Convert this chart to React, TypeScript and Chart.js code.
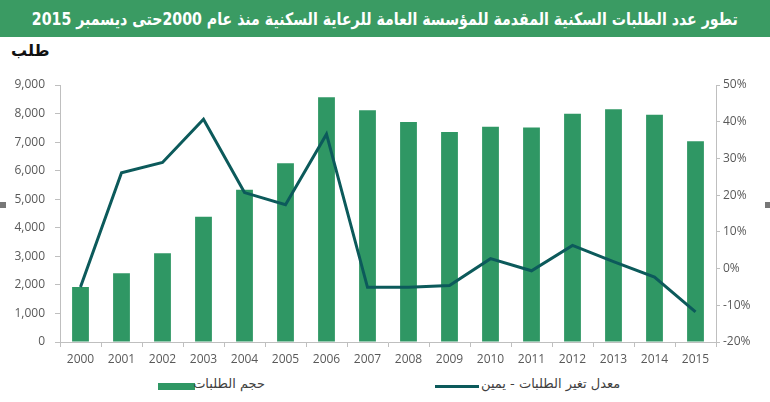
import React, { useEffect, useRef } from "react";
import { Chart, registerables } from "chart.js";

Chart.register(...registerables);

const years = ["2000","2001","2002","2003","2004","2005","2006","2007","2008","2009","2010","2011","2012","2013","2014","2015"];
const requests = [1930, 2410, 3110, 4390, 5330, 6260, 8570, 8120, 7700, 7350, 7540, 7510, 7990, 8150, 7960, 7030];
const changePct = [-5.0, 26.1, 28.9, 40.7, 20.7, 17.4, 36.6, -5.1, -5.1, -4.6, 2.7, -0.6, 6.3, 1.9, -2.3, -11.8];

const titleText = "تطور عدد الطلبات السكنية المقدمة للمؤسسة العامة للرعاية السكنية منذ عام 2000حتى ديسمبر 2015";
const unitLabel = "طلب";
const barLabel = "حجم الطلبات";
const lineLabel = "معدل تغير الطلبات - يمين";

const BAR_COLOR = "#2f9764";
const LINE_COLOR = "#0c5a5b";
const AXIS_COLOR = "#bfbfbf";
const TICK_COLOR = "#595959";

function FitText({ text, width, style }: { text: string; width: number; style: React.CSSProperties }) {
  const r = useRef<HTMLSpanElement | null>(null);
  useEffect(() => {
    const el = r.current!;
    el.style.transform = "none";
    const w = el.getBoundingClientRect().width;
    if (w > 0) el.style.transform = `scaleX(${width / w})`;
  }, [text, width]);
  return (
    <span ref={r} style={{ display: "inline-block", whiteSpace: "nowrap", direction: "rtl", transformOrigin: "center", ...style }}>
      {text}
    </span>
  );
}

export default function App() {
  const ref = useRef<HTMLCanvasElement | null>(null);

  useEffect(() => {
    document.body.style.margin = "0";
    const ctx = ref.current!.getContext("2d")!;
    const chart = new Chart(ctx, {
      type: "bar",
      data: {
        labels: years,
        datasets: [
          {
            type: "line",
            label: lineLabel,
            data: changePct,
            yAxisID: "y1",
            borderColor: LINE_COLOR,
            backgroundColor: LINE_COLOR,
            borderWidth: 3,
            pointRadius: 0,
            tension: 0,
            order: 0,
          } as any,
          {
            type: "bar",
            label: barLabel,
            data: requests,
            yAxisID: "y",
            backgroundColor: BAR_COLOR,
            categoryPercentage: 1,
            barPercentage: 0.41,
            order: 1,
          },
        ],
      },
      options: {
        responsive: false,
        animation: false,
        layout: { padding: { top: 45, left: 0, right: 0, bottom: 0 } },
        plugins: { legend: { display: false }, tooltip: { enabled: false }, title: { display: false } },
        scales: {
          x: {
            offset: true,
            grid: { display: true, drawOnChartArea: false, drawTicks: true, tickLength: 5, color: AXIS_COLOR, offset: true },
            border: { display: true, color: AXIS_COLOR, width: 1 },
            ticks: { color: TICK_COLOR, font: { family: "'Open Sans'", size: 12 }, padding: 5, maxRotation: 0, autoSkip: false },
            afterFit: (s: any) => { s.height = 33; },
          },
          y: {
            position: "left",
            min: 0,
            max: 9000,
            grid: { display: true, drawOnChartArea: false, drawTicks: true, tickLength: 5, color: AXIS_COLOR },
            border: { display: true, color: AXIS_COLOR, width: 1 },
            ticks: {
              stepSize: 1000,
              color: TICK_COLOR,
              font: { family: "'Open Sans'", size: 12 },
              padding: 10,
              callback: (v: any) => Number(v).toLocaleString("en-US"),
            },
            afterFit: (s: any) => { s.width = 60; },
          },
          y1: {
            position: "right",
            min: -20,
            max: 50,
            grid: { display: true, drawOnChartArea: false, drawTicks: true, tickLength: 4, color: AXIS_COLOR },
            border: { display: true, color: AXIS_COLOR, width: 1 },
            ticks: {
              stepSize: 10,
              color: TICK_COLOR,
              font: { family: "'Open Sans'", size: 12 },
              padding: 3,
              callback: (v: any) => `${v}%`,
            },
            afterFit: (s: any) => { s.width = 54; },
          },
        },
      },
    });
    return () => chart.destroy();
  }, []);

  return (
    <div style={{ position: "relative", width: 770, height: 402, background: "#fff", overflow: "hidden" }}>
      <div
        style={{
          position: "absolute", left: 0, top: 0, width: 770, height: 37, background: "#3a9b63",
          display: "flex", alignItems: "center", justifyContent: "center",
        }}
      >
        <FitText text={titleText} width={706} style={{ color: "#fff", fontFamily: "'DejaVu Sans'", fontWeight: "bold", fontSize: 17 }} />
      </div>
      <div style={{ position: "absolute", left: 11, top: 41, fontFamily: "'DejaVu Sans'", fontWeight: "bold", fontSize: 16, color: "#111", direction: "rtl" }}>
        {unitLabel}
      </div>
      <canvas ref={ref} width={770} height={335} style={{ position: "absolute", left: 0, top: 40, width: 770, height: 335 }} />
      <div style={{ position: "absolute", left: 158, top: 383, width: 37, height: 7, background: BAR_COLOR }} />
      <div style={{ position: "absolute", right: 770 - 265, top: 376, fontFamily: "'DejaVu Sans'", fontSize: 13, color: "#404040", direction: "rtl", whiteSpace: "nowrap" }}>
        {barLabel}
      </div>
      <div style={{ position: "absolute", left: 435, top: 385, width: 44, height: 3, background: LINE_COLOR }} />
      <div style={{ position: "absolute", left: 481, top: 376, fontFamily: "'DejaVu Sans'", fontSize: 13, color: "#404040", direction: "rtl", whiteSpace: "nowrap" }}>
        {lineLabel}
      </div>
      <div style={{ position: "absolute", left: 0, top: 202, width: 6, height: 6, background: "#777" }} />
      <div style={{ position: "absolute", left: 765, top: 202, width: 5, height: 6, background: "#777" }} />
    </div>
  );
}
